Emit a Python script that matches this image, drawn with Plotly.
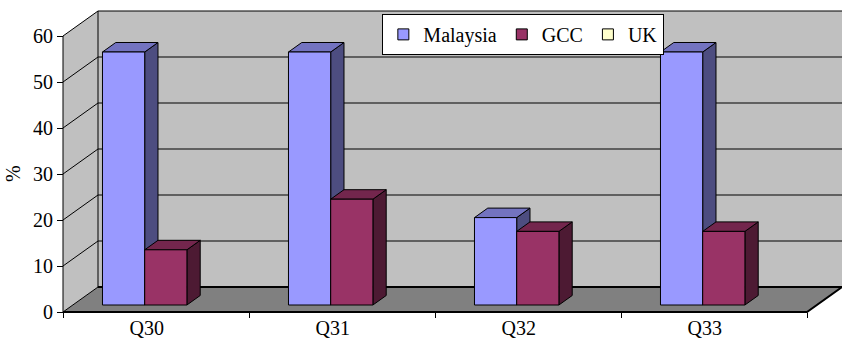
import plotly.graph_objects as go

# ---- data ----
categories = ["Q30", "Q31", "Q32", "Q33"]
series_names = ["Malaysia", "GCC", "UK"]
malaysia = [55, 55, 19, 55]
gcc = [12, 23, 16, 16]
uk = [0, 0, 0, 0]
y_ticks = [0, 10, 20, 30, 40, 50, 60]

# ---- styling ----
front_colors = ["#9999FF", "#993366", "#FFFFCC"]
top_colors = ["#7373C0", "#73264D", "#BFBF99"]
side_colors = ["#4D4D80", "#4D1A33", "#808066"]
WALL = "#C0C0C0"
FLOOR = "#808080"
FONT = "Liberation Serif"

W, H = 842, 342
# pixel geometry of the front plane
PX_X = 186.0          # pixels per category
PX_Y = 4.6            # pixels per percentage point
X0_PIX, Y0_PIX = 63, 312   # pixel of (left edge, value 0) on the front plane
L_PIX, R_PIX, T_PIX, B_PIX = 61, 842, 9, 314

# oblique depth of the box, in data units
DX = 35 / PX_X
DY = 25 / PX_Y
F0 = 0.28             # depth at which bar fronts sit
FB = 0.38             # bar depth
BAR_W = 0.227         # bar width in category units
LBL_OFF = -0.05

XMIN = (L_PIX - X0_PIX) / PX_X - 0.5
XMAX = (R_PIX - X0_PIX) / PX_X - 0.5
YMIN = (Y0_PIX - B_PIX) / PX_Y
YMAX = (Y0_PIX - T_PIX) / PX_Y

XL, XR = -0.5, len(categories) - 0.5
YTOP = y_ticks[-1]

fig = go.Figure()


def poly(xs, ys, fill, lw=1, lc="black"):
    fig.add_trace(go.Scatter(x=xs, y=ys, mode="lines", fill="toself",
                             fillcolor=fill, line=dict(color=lc, width=lw),
                             showlegend=False, hoverinfo="skip"))


def seg(xs, ys, lw=1):
    fig.add_trace(go.Scatter(x=xs, y=ys, mode="lines",
                             line=dict(color="black", width=lw),
                             showlegend=False, hoverinfo="skip"))


# walls and floor
poly([XL, XL + DX, XL + DX, XL, XL], [0, DY, YTOP + DY, YTOP, 0], WALL, 0, WALL)
poly([XL + DX, XR + DX, XR + DX, XL + DX, XL + DX],
     [DY, DY, YTOP + DY, YTOP + DY, DY], WALL, 0, WALL)
poly([XL, XR, XR + DX, XL + DX, XL], [0, 0, DY, DY, 0], FLOOR, 0, FLOOR)

# gridlines on the back wall and the side wall
gx, gy = [], []
for t in y_ticks:
    gx += [XL, XL + DX, XR + DX, None]
    gy += [t, t + DY, t + DY, None]
seg(gx, gy, 1)
seg([XL + DX, XL + DX], [DY, YTOP + DY], 1)
seg([XL, XR, XR + DX], [0, 0, DY], 2)
seg([XL + DX, XR + DX], [DY, DY], 2)
seg([XL, XL], [0, YTOP], 1)

# 3-D bars
values = [malaysia, gcc, uk]
n = len(series_names)
for s, vals in enumerate(values):
    fx, fy, tx, ty, sx, sy = [], [], [], [], [], []
    for i, v in enumerate(vals):
        if v <= 0:
            continue
        c = i + (s - (n - 1) / 2) * BAR_W
        x0 = c - BAR_W / 2 + F0 * DX
        x1 = c + BAR_W / 2 + F0 * DX
        yb = F0 * DY
        yt = v + F0 * DY
        ddx, ddy = FB * DX, FB * DY
        fx += [x0, x1, x1, x0, x0, None]
        fy += [yb, yb, yt, yt, yb, None]
        tx += [x0, x1, x1 + ddx, x0 + ddx, x0, None]
        ty += [yt, yt, yt + ddy, yt + ddy, yt, None]
        sx += [x1, x1 + ddx, x1 + ddx, x1, x1, None]
        sy += [yb, yb + ddy, yt + ddy, yt, yb, None]
    if fx:
        poly(sx, sy, side_colors[s])
        poly(tx, ty, top_colors[s])
        poly(fx, fy, front_colors[s])

# legend entries
for s, name in enumerate(series_names):
    fig.add_trace(go.Scatter(x=[None], y=[None], mode="markers", name=name,
                             marker=dict(symbol="square", size=11,
                                         color=front_colors[s],
                                         line=dict(color="black", width=1))))

# carrier for the boundary tick axis
fig.add_trace(go.Scatter(x=[None], y=[None], xaxis="x2", showlegend=False,
                         hoverinfo="skip"))

# rotated value-axis title, centred on the 0-60 span of the front axis
fig.add_annotation(text="%", textangle=-90, xref="paper", yref="y",
                   x=-(X0_PIX - 15) / (R_PIX - L_PIX), y=YTOP / 2,
                   xanchor="center", yanchor="middle", showarrow=False,
                   font=dict(family=FONT, size=20, color="black"))

fig.update_layout(
    width=W, height=H, autosize=False,
    margin=dict(l=L_PIX, r=W - R_PIX, t=T_PIX, b=H - B_PIX, pad=0),
    paper_bgcolor="white", plot_bgcolor="white",
    font=dict(family=FONT, size=20, color="black"),
    xaxis=dict(range=[XMIN, XMAX], tickvals=[i + LBL_OFF for i in range(len(categories))],
               ticktext=categories, ticks="", showgrid=False, zeroline=False,
               showline=False, automargin=False,
               tickfont=dict(family=FONT, size=20, color="black")),
    xaxis2=dict(range=[XMIN, XMAX], overlaying="x", anchor="free",
                position=(B_PIX - Y0_PIX) / (B_PIX - T_PIX),
                tickvals=[XL + k for k in range(len(categories) + 1)],
                ticks="outside", ticklen=5, tickcolor="black", tickwidth=1,
                showticklabels=False, showgrid=False, zeroline=False,
                showline=False),
    yaxis=dict(range=[YMIN, YMAX], tickvals=y_ticks, ticks="outside",
               ticklen=6, tickcolor="black", tickwidth=1,
               showgrid=False, zeroline=False, showline=False,
               anchor="free", position=(X0_PIX - L_PIX) / (R_PIX - L_PIX),
               automargin=False,
               tickfont=dict(family=FONT, size=20, color="black")),
    legend=dict(orientation="h", x=0.592, xanchor="center", y=0.984,
                yanchor="top", bgcolor="white", bordercolor="black",
                borderwidth=1, font=dict(family=FONT, size=20, color="black"),
                itemclick=False, itemdoubleclick=False, itemwidth=30),
    showlegend=True,
)

fig.write_html("out.html")
